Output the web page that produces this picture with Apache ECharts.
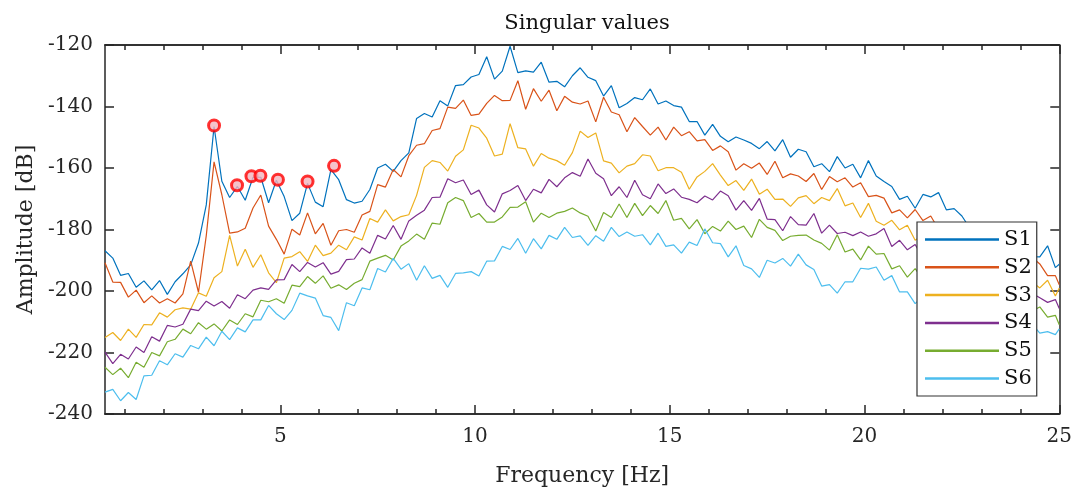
<!DOCTYPE html>
<html>
<head>
<meta charset="utf-8">
<title>Singular values</title>
<script src="https://cdn.jsdelivr.net/npm/echarts@6/dist/echarts.min.js"></script>
<style>
  html, body { margin: 0; padding: 0; background: #fff; }
  #chart { width: 1075px; height: 492px; }
</style>
</head>
<body>
<div id="chart"></div>
<script>
// frequency grid, 0.2 Hz steps from 0.5 Hz, last point at 25 Hz
var freq = [];
for (var i = 0; i <= 122; i++) freq.push(+(0.5 + 0.2 * i).toFixed(1));
freq.push(25);

// amplitudes in dB (noise included)
var s1 = [
  -186.9, -189.3, -194.9, -194.3, -198.8, -196.7, -199.6, -196.6, -201.1, -197,
  -194.4, -191.5, -184.4, -172, -146.5, -164.3, -169.6, -166, -170.5, -163,
  -163, -171.3, -164, -169.3, -177.1, -174.7, -165, -171.1, -172.6, -160.5,
  -163.8, -170.3, -171.4, -170.8, -167, -160, -158.8, -161.1, -157.6, -155.1,
  -143.9, -142.3, -143.4, -138.1, -139.8, -133.2, -132.9, -130.4, -129.6, -123.8,
  -131.1, -128.5, -120.4, -129, -128.4, -128.8, -125.6, -132.1, -131.8, -133.6,
  -130, -127.4, -130.5, -131.6, -136.6, -133.2, -140.4, -139, -137.1, -137.8,
  -134.3, -139.2, -138.2, -139.7, -140.2, -144.9, -144.9, -149.3, -145.8, -149.7,
  -151.5, -149.9, -150.9, -152, -153.7, -151.4, -154.4, -150.8, -156.5, -153.9,
  -154.7, -159.6, -158.6, -161.2, -156.3, -160, -158.8, -163.2, -157.6, -162.6,
  -164.4, -166, -170.2, -169.2, -173.1, -168.6, -169.4, -168, -173.6, -173.2,
  -175.6, -179.5, -178.9, -182.5, -180.2, -183.8, -182.6, -186.9, -185.5, -188.8,
  -188.9, -185.3, -192.4, -191.3
];
var s2 = [
  -190.8, -197.1, -197.2, -202, -199.7, -203.8, -201.6, -203.9, -202.5, -203.9,
  -200.9, -190.3, -200.4, -182, -158, -168.7, -181.2, -180.8, -179.6, -173,
  -168.8, -178.9, -183.2, -188, -179.9, -181.8, -174.6, -181.4, -178, -185.1,
  -180.4, -180, -180.9, -175.3, -174.1, -165.4, -166.2, -160.5, -162.9, -156,
  -152.6, -152.1, -147.8, -147.2, -140.2, -140.6, -137.9, -142.9, -142.5, -139,
  -136.4, -138.1, -138, -131.6, -140.9, -134.2, -138.3, -134.7, -141.4, -136.7,
  -138.6, -139.2, -138.2, -145, -137, -141.8, -142.7, -148.2, -143.6, -146.5,
  -149.3, -146.7, -150.9, -146.7, -149.5, -148.2, -151.2, -150.8, -154.3, -152.8,
  -154.7, -160.7, -158.6, -160.1, -158.4, -162.1, -157.8, -163.2, -161.9, -162.6,
  -164.4, -161.8, -167, -162.8, -164.5, -163.2, -166.2, -164.8, -169.3, -168.9,
  -169.8, -174.6, -173.6, -176.2, -173.5, -177.1, -175.6, -179.9, -178.5, -181.3,
  -181.9, -180.3, -184.4, -183.3, -187.1, -184.7, -187.6, -186.1, -190.6, -189,
  -191.2, -195, -195, -198
];
var s3 = [
  -215.1, -213.5, -216.1, -212.4, -215.1, -210.9, -211, -207.1, -208.5, -206.1,
  -205.5, -205.9, -200.6, -201.7, -195.7, -193.7, -181.9, -191.9, -186.4, -192.3,
  -188.2, -194.1, -197.3, -189.3, -188.8, -187.2, -190.4, -185.1, -188.5, -187.7,
  -185.1, -186.6, -182.4, -183.4, -176.4, -177.6, -173.6, -177.2, -175.8, -175.2,
  -168.9, -159.8, -157.6, -158.2, -161, -156.2, -154.1, -146.1, -147, -150.3,
  -156.1, -155.5, -145.6, -153.4, -153.8, -159.4, -155.3, -156.8, -157.6, -159.1,
  -155, -148, -150.1, -148.6, -157.7, -158.4, -161.6, -159.4, -158.6, -155.7,
  -156.1, -160.9, -159.9, -159.9, -161.4, -166.9, -162.9, -161.1, -158.6, -162.3,
  -165.7, -164.1, -167.3, -163.6, -168.5, -166.9, -170.2, -170.1, -172.5, -169.7,
  -169, -171.6, -169.6, -170.6, -166.7, -172.3, -171.4, -176.1, -171.5, -177.3,
  -178.6, -177, -180.1, -178.6, -183.5, -181.7, -184.4, -182.1, -185.5, -184.7,
  -186.1, -189.7, -187.6, -190.7, -188.9, -193.3, -192.4, -195.9, -193.4, -197,
  -199, -196.5, -201.6, -199
];
var s4 = [
  -219.9, -223.6, -220.6, -222.1, -218.2, -220, -214.9, -216.3, -211.2, -211.7,
  -210.8, -205.9, -206.4, -203.3, -204.9, -203.4, -205.6, -201.2, -202.5, -199.7,
  -199, -199.5, -196.4, -196.3, -191.4, -193.7, -190.7, -192.2, -190.8, -194.5,
  -193.6, -189.8, -189.6, -186, -187.7, -181.9, -183.1, -178.7, -183.2, -177.2,
  -175.4, -173.7, -169.6, -169.5, -163.5, -164.8, -163.9, -168.6, -167.2, -172,
  -174.3, -168.4, -167.3, -165.7, -170.6, -166.9, -168.1, -163.7, -166.1, -163.2,
  -161.5, -162.7, -157.1, -161.7, -163.5, -169, -166.1, -169.6, -164, -168.7,
  -170, -165.2, -168.3, -166.8, -169.5, -170.2, -171.3, -169.1, -170.4, -167.5,
  -169, -173.7, -170.6, -173.8, -169.9, -176.6, -176.8, -180.4, -175.8, -178.4,
  -178.6, -174.8, -181.2, -178.6, -181.3, -180.9, -182, -180.8, -182.2, -181.4,
  -179.7, -185.5, -183.5, -186.6, -184.9, -189.3, -188.4, -191.9, -189.4, -193,
  -194.2, -192.5, -195.6, -194, -198.8, -197.2, -200.4, -198.1, -201.5, -200.7,
  -202.2, -203.7, -202.8, -205.7
];
var s5 = [
  -224.8, -227.2, -225.1, -228.2, -223.2, -224.8, -220, -221.1, -216.5, -215.7,
  -212.4, -213.9, -210.3, -212.4, -210.7, -213, -209.4, -210.9, -207.4, -208.4,
  -203, -203.5, -202.5, -204, -198.1, -198.6, -195.3, -197.5, -195.1, -199.1,
  -198, -199.5, -197.5, -196.3, -190.3, -189.3, -188.4, -189.9, -185.4, -183.7,
  -181.5, -183.2, -177.9, -178.3, -171.3, -169.6, -170.6, -176.1, -174.8, -177.6,
  -177.6, -175.9, -172.8, -172.7, -171, -177.6, -174.7, -176.1, -174.7, -174.1,
  -173, -174.6, -175.7, -180.5, -174.5, -176.1, -171.7, -176.1, -171.5, -175.5,
  -172.2, -174.8, -170.6, -177, -176.4, -179.8, -176.8, -181.4, -179, -180.5,
  -177.3, -180, -178.9, -182.6, -176.7, -179.3, -180.3, -183.6, -182.2, -181.9,
  -181.8, -183.4, -184.5, -186.7, -181.7, -187.3, -186.4, -189.9, -185.4, -188,
  -187.8, -192.8, -191.8, -195.5, -192.7, -196.3, -195.1, -199.4, -198, -200.8,
  -199.6, -202.7, -200.1, -202.7, -200.4, -204.3, -202.9, -205.9, -202.9, -206.5,
  -205.2, -208.5, -207.9, -211
];
var s6 = [
  -232.9, -232, -235.7, -233, -235.3, -227.6, -227.4, -222.7, -224, -220.4,
  -221.5, -217.7, -218.8, -215, -217.8, -213.1, -215.8, -212, -213.3, -209.4,
  -209.4, -204.7, -207.4, -209.3, -206.3, -200.7, -201.6, -202.3, -208, -208.6,
  -212.9, -203.8, -204.8, -199, -199.6, -192.7, -193.8, -189.4, -192.9, -191.1,
  -196.5, -191.8, -195.9, -194.9, -198.8, -194.3, -194.1, -193.7, -195.1, -190.3,
  -190.2, -185.5, -186.5, -182.9, -187.7, -183, -186.3, -181.9, -183.2, -179.3,
  -182.6, -182.1, -185.2, -182, -183.8, -179.3, -182.3, -180.8, -182.2, -181.7,
  -185, -181.2, -185.5, -185, -187.7, -184.1, -185.2, -179.8, -184.3, -184.6,
  -188.9, -185.3, -191.7, -192.8, -195.6, -190, -190.9, -189.4, -191.9, -188,
  -191.5, -193, -198.4, -197.9, -200.7, -197, -197, -192.6, -192.9, -192.2,
  -196.5, -195, -200.3, -200.3, -204.1, -201.7, -204.6, -203.1, -207.6, -206,
  -208.7, -206.5, -209.1, -207, -211.3, -209.2, -211.9, -209.1, -212, -210.7,
  -213.7, -213.2, -214.2, -212.3
];

// picked peaks on S1
var peakFreq = [3.30, 3.89, 4.26, 4.49, 4.94, 5.70, 6.38];
var peakAmp = [-146.2, -165.6, -162.7, -162.5, -163.8, -164.4, -159.3];

var names = ['S1', 'S2', 'S3', 'S4', 'S5', 'S6'];
var colors = ['#0072BD', '#D95319', '#EDB120', '#7E2F8E', '#77AC30', '#4DBEEE'];
var curves = [s1, s2, s3, s4, s5, s6];

var majorX = [5, 10, 15, 20, 25];
var minorX = [];
for (var t = 1; t <= 24; t++) if (t % 5 !== 0) minorX.push(t);

var font = 'DejaVu Serif';
var axisColor = '#262626';

function xAxisDef(pos, ticks, len, labels) {
    return {
        type: 'value', position: pos, min: 0.5, max: 25,
        axisLine: { show: true, onZero: false, lineStyle: { color: axisColor, width: 1.5 } },
        axisTick: { show: true, inside: true, length: len, customValues: ticks,
                    lineStyle: { color: axisColor, width: 1.5 } },
        axisLabel: labels ? { show: true, customValues: majorX, margin: 13,
                              fontFamily: font, fontSize: 20, color: axisColor }
                          : { show: false },
        splitLine: { show: false }
    };
}

function yAxisDef(pos, labels) {
    return {
        type: 'value', position: pos, min: -240, max: -120, interval: 20,
        axisLine: { show: true, onZero: false, lineStyle: { color: axisColor, width: 1.5 } },
        axisTick: { show: true, inside: true, length: 9, lineStyle: { color: axisColor, width: 1.5 } },
        axisLabel: labels ? { show: true, margin: 12, fontFamily: font, fontSize: 20, color: axisColor }
                          : { show: false },
        splitLine: { show: false }
    };
}

var xBottom = xAxisDef('bottom', majorX, 9, true);
xBottom.name = 'Frequency [Hz]';
xBottom.nameLocation = 'middle';
xBottom.nameGap = 51;
xBottom.nameTextStyle = { fontFamily: font, fontSize: 22, color: axisColor };

var yLeft = yAxisDef('left', true);
yLeft.name = 'Amplitude [dB]';
yLeft.nameLocation = 'middle';
yLeft.nameGap = 67;
yLeft.nameTextStyle = { fontFamily: font, fontSize: 22, color: axisColor };

var series = [];
for (var k = 0; k < curves.length; k++) {
    series.push({
        name: names[k],
        type: 'line',
        xAxisIndex: 0,
        yAxisIndex: 0,
        symbol: 'none',
        color: colors[k],
        lineStyle: { width: 1.2, color: colors[k] },
        data: freq.map(function (f, i) { return [f, curves[k][i]]; })
    });
}
series.push({
    name: 'peaks',
    type: 'scatter',
    xAxisIndex: 0,
    yAxisIndex: 0,
    symbol: 'circle',
    symbolSize: 11,
    z: 5,
    itemStyle: { color: '#f3b4bd', borderColor: '#ff0000', borderWidth: 3 },
    data: peakFreq.map(function (f, i) { return [f, peakAmp[i]]; })
});

var myChart = echarts.init(document.getElementById('chart'));
var option = {
    animation: false,
    backgroundColor: '#fff',
    title: {
        text: 'Singular values',
        left: 582, top: 8, textAlign: 'center',
        textStyle: { fontFamily: font, fontSize: 21, fontWeight: 'normal', color: '#111' }
    },
    grid: { left: 105, right: 15, top: 45, bottom: 74, containLabel: false },
    legend: {
        data: names,
        orient: 'vertical',
        left: 917, top: 222,
        padding: [7, 5, 7, 8],
        icon: 'rect',
        itemWidth: 74, itemHeight: 2.5, itemGap: 6.8,
        backgroundColor: '#fff',
        borderColor: '#333', borderWidth: 1.2,
        textStyle: { fontFamily: font, fontSize: 21, color: '#111', lineHeight: 20 }
    },
    xAxis: [
        xBottom,
        xAxisDef('bottom', minorX, 5, false),
        xAxisDef('top', majorX, 9, false),
        xAxisDef('top', minorX, 5, false)
    ],
    yAxis: [yLeft, yAxisDef('right', false)],
    series: series
};
myChart.setOption(option);
</script>
</body>
</html>
